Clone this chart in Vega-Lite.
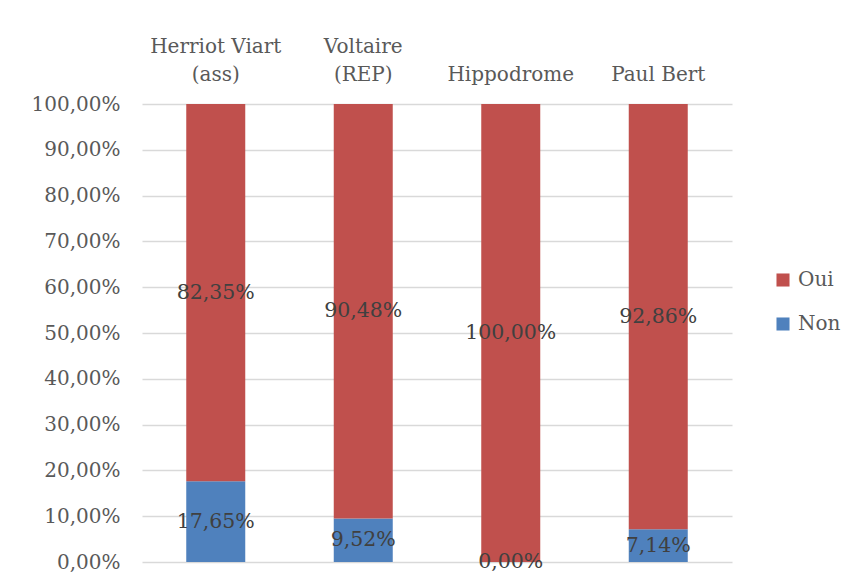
{
  "$schema": "https://vega.github.io/schema/vega-lite/v6.json",
  "width": 590,
  "height": 458,
  "autosize": {"type": "none"},
  "padding": {"left": 142, "top": 104, "right": 115, "bottom": 21},
  "background": "white",
  "config": {
    "font": "DejaVu Serif",
    "view": {"stroke": null},
    "locale": {"number": {"decimal": ",", "thousands": " ", "grouping": [3], "currency": ["", " €"]}},
    "axisY": {
      "title": null, "format": ".2%", "values": [0,0.1,0.2,0.3,0.4,0.5,0.6,0.7,0.8,0.9,1],
      "labelOverlap": false,
      "domain": false, "ticks": false, "labelFontSize": 20, "labelColor": "#595959",
      "labelPadding": 22, "gridColor": "#d9d9d9", "gridWidth": 1.3
    }
  },
  "data": {
    "values": [
      {"etab": "Herriot Viart (ass)", "serie": "Non", "val": 0.1765},
      {"etab": "Herriot Viart (ass)", "serie": "Oui", "val": 0.8235},
      {"etab": "Voltaire (REP)", "serie": "Non", "val": 0.0952},
      {"etab": "Voltaire (REP)", "serie": "Oui", "val": 0.9048},
      {"etab": "Hippodrome", "serie": "Non", "val": 0.0},
      {"etab": "Hippodrome", "serie": "Oui", "val": 1.0},
      {"etab": "Paul Bert", "serie": "Non", "val": 0.0714},
      {"etab": "Paul Bert", "serie": "Oui", "val": 0.9286}
    ]
  },
  "transform": [
    {"stack": "val", "groupby": ["etab"], "sort": [{"field": "serie", "order": "ascending"}], "as": ["v0", "v1"]},
    {"calculate": "(datum.v0 + datum.v1) / 2", "as": "vmid"}
  ],
  "encoding": {
    "x": {
      "field": "etab", "type": "nominal", "sort": null,
      "scale": {"paddingInner": 0.6, "paddingOuter": 0.3},
      "axis": {
        "orient": "top", "title": null, "domain": false, "ticks": false,
        "labelAngle": 0, "labelFontSize": 20, "labelColor": "#595959",
        "labelPadding": 48, "labelLineHeight": 28,
        "labelExpr": "indexof(datum.value,'(')>0 ? [substring(datum.value,0,indexof(datum.value,'(')-1), substring(datum.value,indexof(datum.value,'('))] : ['', datum.value]"
      }
    }
  },
  "layer": [
    {
      "mark": {"type": "bar"},
      "encoding": {
        "y": {
          "field": "v0", "type": "quantitative",
          "scale": {"domain": [0, 1], "nice": false},
          "axis": {"title": null, "values": [0,0.1,0.2,0.3,0.4,0.5,0.6,0.7,0.8,0.9,1]}
        },
        "y2": {"field": "v1"},
        "color": {
          "field": "serie", "type": "nominal",
          "scale": {"domain": ["Oui", "Non"], "range": ["#C0504D", "#4F81BD"]},
          "legend": {
            "title": null, "orient": "none", "legendX": 631, "legendY": 166,
            "symbolType": "square", "symbolSize": 170, "symbolStrokeWidth": 0,
            "labelFontSize": 20, "labelColor": "#595959", "rowPadding": 24, "labelOffset": 5
          }
        }
      }
    },
    {
      "mark": {"type": "text", "fontSize": 20.5, "color": "#404040", "baseline": "middle"},
      "encoding": {
        "y": {"field": "vmid", "type": "quantitative", "axis": {"title": null, "values": [0,0.1,0.2,0.3,0.4,0.5,0.6,0.7,0.8,0.9,1]}},
        "text": {"field": "val", "type": "quantitative", "format": ".2%"}
      }
    }
  ]
}
